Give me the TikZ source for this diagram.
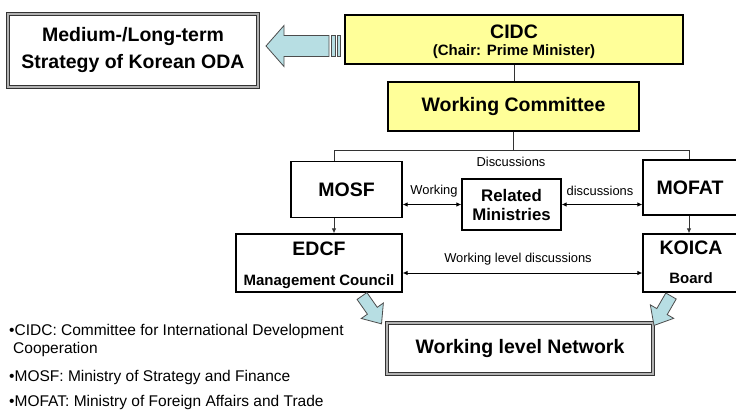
\documentclass[tikz,border=0pt]{standalone}
\usepackage{fontspec}
\setmainfont{Liberation Sans}
\usetikzlibrary{arrows.meta}
\definecolor{boxyellow}{RGB}{255,255,153}
\definecolor{arrowblue}{RGB}{183,222,227}
\newcommand{\boxfont}{\fontsize{19.5}{24}\selectfont\bfseries}
\newcommand{\subfont}{\fontsize{15}{18}\selectfont\bfseries}
\newcommand{\lblfont}{\fontsize{12.9}{15}\selectfont}
\newcommand{\notefont}{\fontsize{15.5}{18}\selectfont}

\tikzset{
  orgbox/.style={draw=black, line width=1.3pt, inner sep=0pt, align=center, font=\boxfont},
  chairbox/.style={orgbox, fill=boxyellow},
  dblbox/.style={draw=black!80, double=black!30, double distance=1.3pt, line width=1pt,
    inner sep=0pt, align=center, font=\boxfont},
  boxtext/.style={inner sep=0pt, font=\boxfont},
  subtext/.style={inner sep=0pt, font=\subfont},
  tree/.style={draw=black!80, line width=0.9pt},
  link/.style={line width=0.9pt, >={Latex[length=5pt,width=4.5pt]}},
  lbl/.style={font=\lblfont, inner sep=0pt},
  note/.style={font=\notefont, anchor=west, inner sep=0pt},
  arrowline/.style={draw=black!70, line width=0.8pt, fill=arrowblue},
  blockarr/.pic={
    \draw[arrowline] (0,-6) -- (18,-6) -- (18,-13.5) -- (34,0) -- (18,13.5)
      -- (18,6) -- (0,6) -- cycle;
  }
}

\begin{document}
\begin{tikzpicture}[x=1pt, y=-1pt]
  \useasboundingbox (0,0) rectangle (736,412);

  % top level
  \node[dblbox, font=\fontsize{19.5}{27}\selectfont\bfseries, minimum width=250pt, minimum height=73pt]
    (strat) at (133,50.5) {Medium-/Long-term\\Strategy of Korean ODA};
  \node[chairbox, minimum width=338pt, minimum height=49pt] (cidc) at (514,39.5) {};
  \node[boxtext] (cidcname) at (514,32) {CIDC};
  \node[subtext] (cidcchair) at (514,52) {(Chair: Prime Minister)};
  \node[chairbox, minimum width=251pt, minimum height=49pt] (wc) at (513.5,106.5) {Working Committee};

  % ministries
  \node[orgbox, minimum width=111pt, minimum height=56pt] (mosf) at (346.5,189.5) {MOSF};
  \node[orgbox, font=\fontsize{16.8}{19}\selectfont\bfseries, minimum width=99pt, minimum height=51pt]
    (rm) at (511.5,204.5) {Related\\Ministries};
  \node[orgbox, minimum width=94pt, minimum height=55pt] (mofat) at (690,187.5) {MOFAT};

  % agencies
  \node[orgbox, minimum width=166pt, minimum height=58pt] (edcf) at (319,263) {};
  \node[boxtext] (edcfname) at (319,249) {EDCF};
  \node[subtext] (edcfcouncil) at (319,282) {Management Council};
  \node[orgbox, minimum width=94pt, minimum height=58pt] (koica) at (690,263) {};
  \node[boxtext] (koicaname) at (691,248) {KOICA};
  \node[subtext] (koicaboard) at (691,278) {Board};
  \node[dblbox, minimum width=266pt, minimum height=51pt] (net) at (520,348.5) {Working level Network};

  % tree lines
  \coordinate (lj) at (334,150);
  \coordinate (rj) at (689,150);
  \draw[tree] (cidc.south) -- (cidc.south |- wc.north);
  \draw[tree] (wc.south) -- (wc.south |- lj);
  \draw[tree] (lj) -- (rj);
  \draw[tree] (lj) -- (lj |- mosf.north);
  \draw[tree] (rj) -- (rj |- mofat.north);
  \draw[tree, link, ->] (lj |- mosf.south) -- (lj |- edcf.north);
  \draw[tree, link, ->] (rj |- mofat.south) -- (rj |- koica.north);

  % discussions
  \draw[link, <->] (mosf.east |- rm.west) -- (rm.west);
  \draw[link, <->] (rm.east) -- (mofat.west |- rm.east);
  \draw[link, <->] ([yshift=-10pt]edcf.east) -- ([yshift=-10pt]koica.west);
  \node[lbl] (disc) at (511,162) {Discussions};
  \node[lbl] (workl) at (434,191) {Working};
  \node[lbl] (workr) at (600,191) {discussions};
  \node[lbl] (wld) at (518,259) {Working level discussions};

  % block arrows
  \coordinate (tip) at (266,46);
  \draw[arrowline] (tip) -- ++(18,-20.5) -- ++(0,10) -- ++(45,0) -- ++(0,21)
    -- ++(-45,0) -- ++(0,10) -- cycle;
  \draw[arrowline] (331,35.5) rectangle (335.5,56.5);
  \draw[arrowline] (337,35.5) rectangle (340,56.5);
  \pic[rotate=-55] at (362,296) {blockarr};
  \pic[rotate=-120] at (671,296) {blockarr};

  % abbreviations
  \node[note] (n1) at (9,331) {•CIDC: Committee for International Development};
  \node[note] (n1b) at (13,349) {Cooperation};
  \node[note] (n2) at (9,377) {•MOSF: Ministry of Strategy and Finance};
  \node[note] (n3) at (9,402) {•MOFAT: Ministry of Foreign Affairs and Trade};
\end{tikzpicture}
\end{document}
